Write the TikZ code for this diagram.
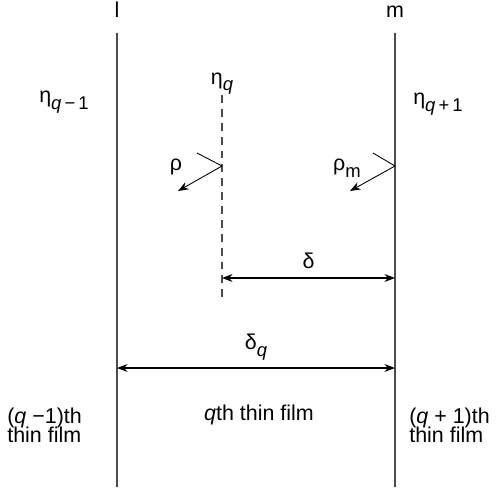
\documentclass[tikz,border=0pt]{standalone}
\usepackage{fontspec}
\setmainfont{Liberation Sans}
\usetikzlibrary{positioning}
\usetikzlibrary{arrows.meta}
\newcommand{\lowidx}[1]{\raisebox{-0.6ex}{\fontsize{10.5}{11}\selectfont #1}}
\tikzset{
	x=0.02cm, y=-0.02cm,
	film/.style = {draw=black!70, line width=0.9pt},
	plane/.style = {draw=black!70, line width=0.9pt, dash pattern=on 4.5pt off 3.4pt},
	ray/.style = {-{Stealth[length=6pt,width=4.5pt]}, line width=0.5pt},
	gap/.style = {{Stealth[length=6pt,width=4.5pt]}-{Stealth[length=6pt,width=4.5pt]}, line width=0.6pt},
	txt/.style = {inner sep=0pt, font=\fontsize{12.2}{12.5}\selectfont, align=left},
}

\begin{document}
\begin{tikzpicture}
	\useasboundingbox (0,0) rectangle (500,487);
	% film boundaries
	\coordinate (Ltop) at (117,33);
	\coordinate (Lbot) at (117,487);
	\coordinate (Mtop) at (395,33);
	\coordinate (Mbot) at (395,487);
	\coordinate (Qtop) at (222,95);
	\coordinate (Qbot) at (222,300);
	\path[film] (Ltop) -- (Lbot);
	\path[film] (Mtop) -- (Mbot);
	\path[plane] (Qtop) -- (Qbot);
	\node (Lname) [txt, anchor=base] at (117,17) {l};
	\node (Mname) [txt, anchor=base] at (395,17) {m};
	% refractive indices
	\node (EtaL) [txt] at (64,102) {η\lowidx{\textit{q}\,−\,1}};
	\node (EtaQ) [txt, above=0pt of Qtop] {η\lowidx{\textit{q}}};
	\node (EtaM) [txt] at (438,104) {η\lowidx{\textit{q}\,+\,1}};
	% reflections
	\coordinate (Qhit) at (222,166);
	\coordinate (Qin) at (197,153);
	\coordinate (Qout) at (178,191);
	\coordinate (Mhit) at (395,166);
	\coordinate (Min) at (373,153);
	\coordinate (Mout) at (350,191);
	\draw[line width=0.5pt] (Qin) -- (Qhit);
	\draw[ray] (Qhit) -- (Qout);
	\draw[line width=0.5pt] (Min) -- (Mhit);
	\draw[ray] (Mhit) -- (Mout);
	\node (Rho) [txt] at (176,167) {ρ};
	\node (RhoM) [txt] at (347,168) {ρ\lowidx{m}};
	% thicknesses
	\coordinate (Dq) at (222,278);
	\coordinate (Dm) at (395,278);
	\coordinate (Fl) at (117,368);
	\coordinate (Fm) at (395,368);
	\draw[gap] (Dq) -- (Dm) node (Delta) [txt, midway, above=5pt] {δ};
	\draw[gap] (Fl) -- (Fm) node (DeltaQ) [txt, pos=0.5, above=4pt] {δ\lowidx{\textit{q}}};
	% film names
	\node (FilmL) [txt, anchor=west] at (7,425) {(\textit{q} −1)th\\[-1.5pt]thin film};
	\node (FilmQ) [txt] at (259,415) {\textit{q}th thin film};
	\node (FilmM) [txt, anchor=west] at (409,425) {(\textit{q} + 1)th\\[-1.5pt]thin film};
\end{tikzpicture}
\end{document}
